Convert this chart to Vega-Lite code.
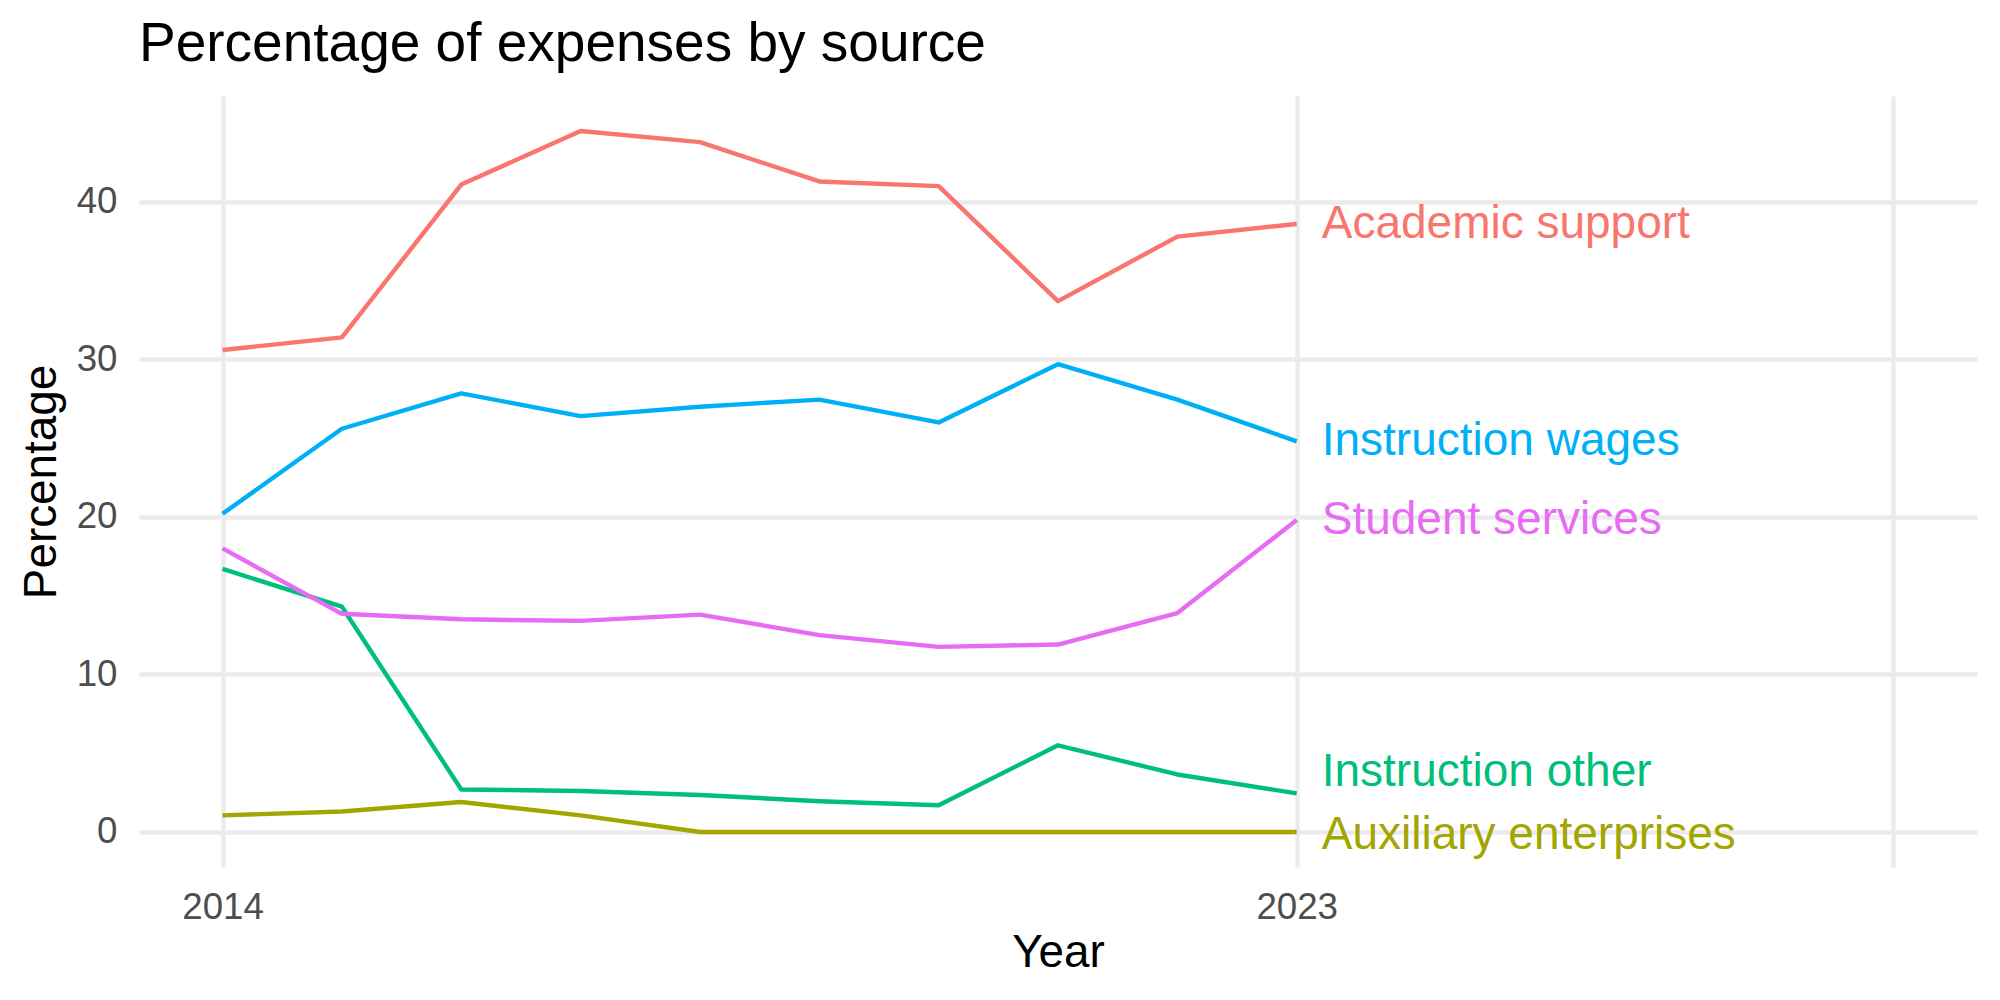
{
  "$schema": "https://vega.github.io/schema/vega-lite/v6.json",
  "autosize": "none",
  "width": 1838,
  "height": 771,
  "padding": {"left": 139, "top": 96, "right": 23, "bottom": 133},
  "background": "white",
  "config": {
    "view": {"stroke": null},
    "font": "Liberation Sans",
    "axis": {
      "domain": false,
      "ticks": false,
      "tickSize": 0,
      "gridColor": "#EBEBEB",
      "labelFont": "Liberation Sans",
      "titleFont": "Liberation Sans",
      "labelColor": "#4D4D4D",
      "titleColor": "#000000",
      "titleFontWeight": "normal"
    }
  },
  "title": {
    "text": "Percentage of expenses by source",
    "anchor": "start",
    "frame": "group",
    "font": "Liberation Sans",
    "fontSize": 55,
    "fontWeight": "normal",
    "color": "#000000",
    "baseline": "alphabetic",
    "offset": -20
  },
  "data": {
    "values": [
      {"year": 2014, "series": "Academic support", "value": 30.6},
      {"year": 2015, "series": "Academic support", "value": 31.4},
      {"year": 2016, "series": "Academic support", "value": 41.1},
      {"year": 2017, "series": "Academic support", "value": 44.5},
      {"year": 2018, "series": "Academic support", "value": 43.8},
      {"year": 2019, "series": "Academic support", "value": 41.3},
      {"year": 2020, "series": "Academic support", "value": 41.0},
      {"year": 2021, "series": "Academic support", "value": 33.7},
      {"year": 2022, "series": "Academic support", "value": 37.8},
      {"year": 2023, "series": "Academic support", "value": 38.6},
      {"year": 2014, "series": "Auxiliary enterprises", "value": 1.05},
      {"year": 2015, "series": "Auxiliary enterprises", "value": 1.3},
      {"year": 2016, "series": "Auxiliary enterprises", "value": 1.9},
      {"year": 2017, "series": "Auxiliary enterprises", "value": 1.05},
      {"year": 2018, "series": "Auxiliary enterprises", "value": 0},
      {"year": 2019, "series": "Auxiliary enterprises", "value": 0},
      {"year": 2020, "series": "Auxiliary enterprises", "value": 0},
      {"year": 2021, "series": "Auxiliary enterprises", "value": 0},
      {"year": 2022, "series": "Auxiliary enterprises", "value": 0},
      {"year": 2023, "series": "Auxiliary enterprises", "value": 0},
      {"year": 2014, "series": "Instruction other", "value": 16.7},
      {"year": 2015, "series": "Instruction other", "value": 14.3},
      {"year": 2016, "series": "Instruction other", "value": 2.7},
      {"year": 2017, "series": "Instruction other", "value": 2.6},
      {"year": 2018, "series": "Instruction other", "value": 2.35},
      {"year": 2019, "series": "Instruction other", "value": 1.95},
      {"year": 2020, "series": "Instruction other", "value": 1.7},
      {"year": 2021, "series": "Instruction other", "value": 5.5},
      {"year": 2022, "series": "Instruction other", "value": 3.65},
      {"year": 2023, "series": "Instruction other", "value": 2.45},
      {"year": 2014, "series": "Instruction wages", "value": 20.2},
      {"year": 2015, "series": "Instruction wages", "value": 25.6},
      {"year": 2016, "series": "Instruction wages", "value": 27.85},
      {"year": 2017, "series": "Instruction wages", "value": 26.4},
      {"year": 2018, "series": "Instruction wages", "value": 27.0},
      {"year": 2019, "series": "Instruction wages", "value": 27.45},
      {"year": 2020, "series": "Instruction wages", "value": 26.0},
      {"year": 2021, "series": "Instruction wages", "value": 29.7},
      {"year": 2022, "series": "Instruction wages", "value": 27.45},
      {"year": 2023, "series": "Instruction wages", "value": 24.8},
      {"year": 2014, "series": "Student services", "value": 18.0},
      {"year": 2015, "series": "Student services", "value": 13.85},
      {"year": 2016, "series": "Student services", "value": 13.5},
      {"year": 2017, "series": "Student services", "value": 13.4},
      {"year": 2018, "series": "Student services", "value": 13.8},
      {"year": 2019, "series": "Student services", "value": 12.5},
      {"year": 2020, "series": "Student services", "value": 11.75},
      {"year": 2021, "series": "Student services", "value": 11.9},
      {"year": 2022, "series": "Student services", "value": 13.9},
      {"year": 2023, "series": "Student services", "value": 19.8}
    ]
  },
  "encoding": {
    "x": {
      "field": "year",
      "type": "quantitative",
      "scale": {"domain": [2013.3, 2028.7], "nice": false, "zero": false}
    },
    "y": {
      "field": "value",
      "type": "quantitative",
      "scale": {"domain": [-2.225, 46.725], "nice": false, "zero": false}
    },
    "color": {
      "field": "series",
      "type": "nominal",
      "scale": {
        "domain": ["Academic support", "Auxiliary enterprises", "Instruction other", "Instruction wages", "Student services"],
        "range": ["#F8766D", "#A3A500", "#00BF7D", "#00B0F6", "#E76BF3"]
      },
      "legend": null
    }
  },
  "layer": [
    {
      "mark": {"type": "line", "strokeWidth": 4.4, "strokeCap": "butt", "strokeJoin": "round"},
      "encoding": {
        "x": {
          "field": "year",
          "type": "quantitative",
          "axis": {
            "orient": "bottom",
            "title": "Year",
            "values": [2014, 2023, 2028],
            "labelExpr": "datum.value == 2028 ? '' : datum.label",
            "format": "d",
            "gridWidth": 4.4,
            "labelFontSize": 36.7,
            "labelPadding": 22,
            "titleFontSize": 45.8,
            "titlePadding": 5
          }
        },
        "y": {
          "field": "value",
          "type": "quantitative",
          "axis": {
            "orient": "left",
            "title": "Percentage",
            "values": [0, 10, 20, 30, 40],
            "gridWidth": 4.4,
            "labelFontSize": 36.7,
            "labelPadding": 22,
            "titleFontSize": 45.8,
            "titlePadding": 11
          }
        }
      }
    },
    {
      "transform": [{"filter": "datum.year == 2023"}],
      "mark": {
        "type": "text",
        "align": "left",
        "baseline": "middle",
        "dx": 25,
        "dy": {"expr": "datum.series === 'Instruction other' ? -21 : (datum.series === 'Auxiliary enterprises' ? 3 : 0)"},
        "fontSize": 46,
        "font": "Liberation Sans"
      },
      "encoding": {
        "text": {"field": "series", "type": "nominal"},
        "x": {
          "field": "year",
          "type": "quantitative",
          "axis": {
            "orient": "top",
            "title": null,
            "values": [2018.5, 2025.5],
            "labels": false,
            "gridWidth": 2.2
          }
        },
        "y": {
          "field": "value",
          "type": "quantitative",
          "axis": {
            "orient": "right",
            "title": null,
            "values": [5, 15, 25, 35, 45],
            "labels": false,
            "gridWidth": 2.2
          }
        }
      }
    }
  ],
  "resolve": {"axis": {"x": "independent", "y": "independent"}}
}
